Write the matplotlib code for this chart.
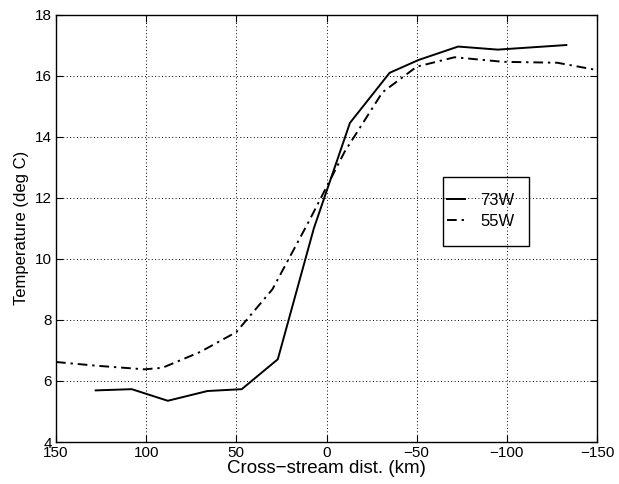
#!/usr/bin/env python3

import matplotlib
matplotlib.use("Agg")
import matplotlib.pyplot as plt
from matplotlib.patches import Rectangle

# cross-stream distance (km) and temperature (deg C)
dist_73w = [128, 108, 88, 66, 47, 27, 7, -13, -35, -51, -73, -95, -133]
temp_73w = [5.69, 5.73, 5.35, 5.67, 5.73, 6.71, 11.0, 14.45, 16.09, 16.51,
            16.95, 16.85, 17.0]

dist_55w = [150, 128, 101, 91, 70, 50, 30, 10, -10, -31, -50, -71, -98,
            -128, -150]
temp_55w = [6.62, 6.5, 6.38, 6.43, 6.95, 7.6, 9.0, 11.2, 13.5, 15.45,
            16.29, 16.6, 16.45, 16.42, 16.18]

x_ticks = [150, 100, 50, 0, -50, -100, -150]
y_ticks = [4, 6, 8, 10, 12, 14, 16, 18]

plt.rcParams['font.family'] = ['Liberation Sans', 'DejaVu Sans']
plt.rcParams['font.size'] = 11
plt.rcParams['axes.unicode_minus'] = False

fig = plt.figure(figsize=(6.19, 4.84), dpi=100)
ax = fig.add_axes([56 / 619, 1 - 442 / 484, 541 / 619, 427.5 / 484])

ax.plot(dist_73w, temp_73w, color='black', lw=1.4, ls='-', label='73W')
ax.plot(dist_55w, temp_55w, color='black', lw=1.4,
        ls=(0, (5, 2.5, 1.2, 2.5)), label='55W')

ax.set_xlim(150, -150)
ax.set_ylim(4, 18)
ax.set_xticks(x_ticks)
ax.set_xticklabels(['150', '100', '50', '0', '\u221250', '\u2212100', '\u2212150'])
ax.set_yticks(y_ticks)

ax.grid(True, color='black', ls=(0, (1, 2.5)), lw=0.7)
ax.tick_params(direction='in', top=True, right=True, length=5, width=0.8,
               pad=3, colors='black')
for s in ax.spines.values():
    s.set_linewidth(1.0)

ax.set_xlabel('Cross\u2212stream dist. (km)', fontsize=13.5, labelpad=0)
ax.set_ylabel('Temperature (deg C)', fontsize=12, labelpad=4)

# legend box (MATLAB style, not filled)
ax.add_patch(Rectangle((0.7153, 0.4585), 0.159, 0.1614, transform=ax.transAxes,
                       fill=False, edgecolor='black', lw=1.0, zorder=4))
ax.legend(loc='center left', bbox_to_anchor=(0.7227, 0.5404), frameon=False,
          fontsize=12, handlelength=1.1, handletextpad=0.9, borderpad=0,
          labelspacing=0.4, borderaxespad=0)

fig.savefig('out.png', dpi=100)
